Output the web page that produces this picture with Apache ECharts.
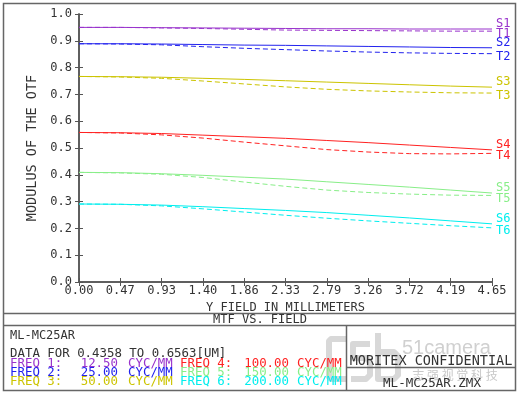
<!DOCTYPE html>
<html><head><meta charset="utf-8">
<script src="https://cdn.jsdelivr.net/npm/echarts@6/dist/echarts.min.js"></script>
<style>html,body{margin:0;padding:0;background:#fff}#c{width:519px;height:393px}</style>
</head><body><div id="c"></div>
<script>
var fields = [0, 0.465, 0.93, 1.395, 1.86, 2.325, 2.79, 3.255, 3.72, 4.185, 4.65];
var xTickLabels = ['0.00','0.47','0.93','1.40','1.86','2.33','2.79','3.26','3.72','4.19','4.65'];
var yTickLabels = ['0.0','0.1','0.2','0.3','0.4','0.5','0.6','0.7','0.8','0.9','1.0'];
var S1 = [0.950,0.950,0.949,0.948,0.947,0.946,0.945,0.945,0.944,0.944,0.944];
var T1 = [0.950,0.950,0.948,0.946,0.943,0.940,0.939,0.938,0.937,0.936,0.936];
var S2 = [0.889,0.889,0.888,0.886,0.884,0.883,0.881,0.879,0.877,0.875,0.874];
var T2 = [0.889,0.888,0.885,0.878,0.872,0.867,0.862,0.858,0.855,0.853,0.852];
var S3 = [0.767,0.766,0.764,0.760,0.756,0.751,0.746,0.741,0.736,0.731,0.727];
var T3 = [0.767,0.765,0.760,0.750,0.739,0.728,0.719,0.713,0.709,0.706,0.705];
var S4 = [0.558,0.557,0.554,0.548,0.542,0.536,0.528,0.520,0.511,0.502,0.493];
var T4 = [0.558,0.556,0.549,0.537,0.522,0.508,0.494,0.485,0.479,0.478,0.480];
var S5 = [0.409,0.408,0.404,0.398,0.391,0.384,0.374,0.364,0.354,0.343,0.332];
var T5 = [0.409,0.407,0.402,0.390,0.373,0.357,0.343,0.334,0.328,0.324,0.323];
var S6 = [0.291,0.290,0.287,0.281,0.274,0.267,0.259,0.249,0.239,0.228,0.217];
var T6 = [0.291,0.290,0.284,0.273,0.261,0.249,0.238,0.228,0.219,0.210,0.202];
var freqs = ['12.50','25.00','50.00','100.00','150.00','200.00'];
var colors = ['#9933CC','#2222EE','#CCC400','#FF2222','#88EE88','#00EEEE'];

var F = '"DejaVu Sans Mono", monospace';
var sData = [S1,S2,S3,S4,S5,S6], tData = [T1,T2,T3,T4,T5,T6];
function pts(arr){ return arr.map(function(v,i){ return [fields[i], v]; }); }
var series = [];
for (var k = 0; k < 6; k++) {
  (function(k){
    series.push({
      type:'line', name:'S'+(k+1), data: pts(sData[k]), symbol:'none', silent:true,
      lineStyle:{color:colors[k], width:1}, z: 3,
      endLabel:{show:true, formatter:'S'+(k+1), color:colors[k], fontFamily:F, fontSize:12, distance:4, offset:[0,-5]}
    });
    series.push({
      type:'line', name:'T'+(k+1), data: pts(tData[k]), symbol:'none', silent:true,
      lineStyle:{color:colors[k], width:1, type:[5,3]}, z: 2,
      endLabel:{show:true, formatter:'T'+(k+1), color:colors[k], fontFamily:F, fontSize:12, distance:4, offset:[0,3]}
    });
  })(k);
}

var axisC = '#555';
var wm = '#d8d8d8';
var wmStyle = {stroke:wm, lineWidth:6, fill:'none', lineJoin:'round', lineCap:'butt'};
var graphics = [
  // watermark
  {type:'polyline', z:0, shape:{points:[[347,339],[331,339],[329,341],[329,377],[331,379],[347,379]]}, style:wmStyle},
  {type:'polyline', z:0, shape:{points:[[370,344],[353,344],[353,358],[366,358],[370,362],[370,375],[366,379],[351,379]]}, style:wmStyle},
  {type:'polyline', z:0, shape:{points:[[378,333],[378,379],[394,379],[398,375],[398,356],[394,352],[378,352]]}, style:wmStyle},
  {type:'text', z:0, x:402, y:348, style:{text:'51camera', font:'20px "Liberation Sans"', fill:'#d0d0d0', textVerticalAlign:'middle'}},
  {type:'text', z:0, x:455, y:375, style:{text:'志 强 视 觉 科 技', font:'12px "Noto Sans CJK SC"', fill:'#c8c8c8', textAlign:'center', textVerticalAlign:'middle'}},
  // frame
  {type:'rect', shape:{x:3.5,y:3.5,width:512,height:387}, style:{fill:'none', stroke:'#666', lineWidth:1.5}},
  {type:'line', shape:{x1:3,y1:313.5,x2:516,y2:313.5}, style:{stroke:'#666', lineWidth:1.5}},
  {type:'line', shape:{x1:3,y1:325.5,x2:516,y2:325.5}, style:{stroke:'#666', lineWidth:1.5}},
  {type:'line', shape:{x1:346.5,y1:325,x2:346.5,y2:391}, style:{stroke:'#666', lineWidth:1.5}},
  {type:'line', shape:{x1:346,y1:367.5,x2:516,y2:367.5}, style:{stroke:'#666', lineWidth:1.5}},
  // texts
  {type:'text', x:260, y:319.5, style:{text:'MTF VS. FIELD', font:'12px '+F, fill:'#333', textAlign:'center', textVerticalAlign:'middle'}},
  {type:'text', x:10, y:335.5, style:{text:'ML-MC25AR', font:'12px '+F, fill:'#333', textVerticalAlign:'middle'}},
  {type:'text', x:10, y:353.5, style:{text:'DATA FOR 0.4358 TO 0.6563[UM]', font:'12.4px '+F, fill:'#333', textVerticalAlign:'middle'}},
  {type:'text', x:431, y:361, style:{text:'MORITEX CONFIDENTIAL', font:'13.5px '+F, fill:'#333', textAlign:'center', textVerticalAlign:'middle'}},
  {type:'text', x:432, y:384, style:{text:'ML-MC25AR.ZMX', font:'12.5px '+F, fill:'#333', textAlign:'center', textVerticalAlign:'middle'}}
];
var rowY = [363.5, 372.5, 381.5];
for (var i = 0; i < 6; i++) {
  var col = i < 3 ? 0 : 1, row = i % 3;
  var x0 = col ? 180 : 10, xv = col ? 289 : 118, xu = col ? 297 : 128;
  var st = {font:'12.4px '+F, fill:colors[i], textVerticalAlign:'middle'};
  graphics.push({type:'text', x:x0, y:rowY[row], style:Object.assign({text:'FREQ '+(i+1)+':'}, st)});
  graphics.push({type:'text', x:xv, y:rowY[row], style:Object.assign({text:freqs[i], textAlign:'right'}, st)});
  graphics.push({type:'text', x:xu, y:rowY[row], style:Object.assign({text:'CYC/MM'}, st)});
}

var chart = echarts.init(document.getElementById('c'), null, {renderer:'canvas'});
chart.setOption({
  animation:false,
  backgroundColor:'#fff',
  grid:{left:79, right:27, top:14, bottom:111},
  xAxis:[{
    type:'value', min:0, max:4.65, interval:0.465, position:'bottom',
    name:'Y FIELD IN MILLIMETERS', nameLocation:'middle', nameGap:19,
    nameTextStyle:{fontFamily:F, fontSize:12, color:'#333'},
    axisLine:{show:true, lineStyle:{color:axisC, width:1.5}},
    axisTick:{show:true, inside:true, length:4, lineStyle:{color:axisC}},
    axisLabel:{fontFamily:F, fontSize:12, color:'#333', margin:3,
      formatter:function(v){ return xTickLabels[Math.round(v/0.465)]; }},
    splitLine:{show:false}
  },{
    type:'value', min:0, max:4.65, interval:0.465, position:'top',
    axisLine:{show:true, lineStyle:{color:axisC, width:1.5}},
    axisTick:{show:true, inside:true, length:4, lineStyle:{color:axisC}},
    axisLabel:{show:false}, splitLine:{show:false}
  }],
  yAxis:[{
    type:'value', min:0, max:1, interval:0.1, position:'left',
    name:'MODULUS OF THE OTF', nameLocation:'middle', nameGap:37,
    nameTextStyle:{fontFamily:F, fontSize:13.5, color:'#333'},
    axisLine:{show:true, lineStyle:{color:axisC, width:1.5}},
    axisTick:{show:true, inside:true, length:4, lineStyle:{color:axisC}},
    axisLabel:{fontFamily:F, fontSize:12, color:'#333', margin:7,
      formatter:function(v){ return yTickLabels[Math.round(v*10)]; }},
    splitLine:{show:false}
  },{
    type:'value', min:0, max:1, interval:0.1, position:'right',
    axisLine:{show:true, lineStyle:{color:axisC, width:1.5}},
    axisTick:{show:true, inside:true, length:4, lineStyle:{color:axisC}},
    axisLabel:{show:false}, splitLine:{show:false}
  }],
  series: series,
  graphic: graphics
});
</script></body></html>
